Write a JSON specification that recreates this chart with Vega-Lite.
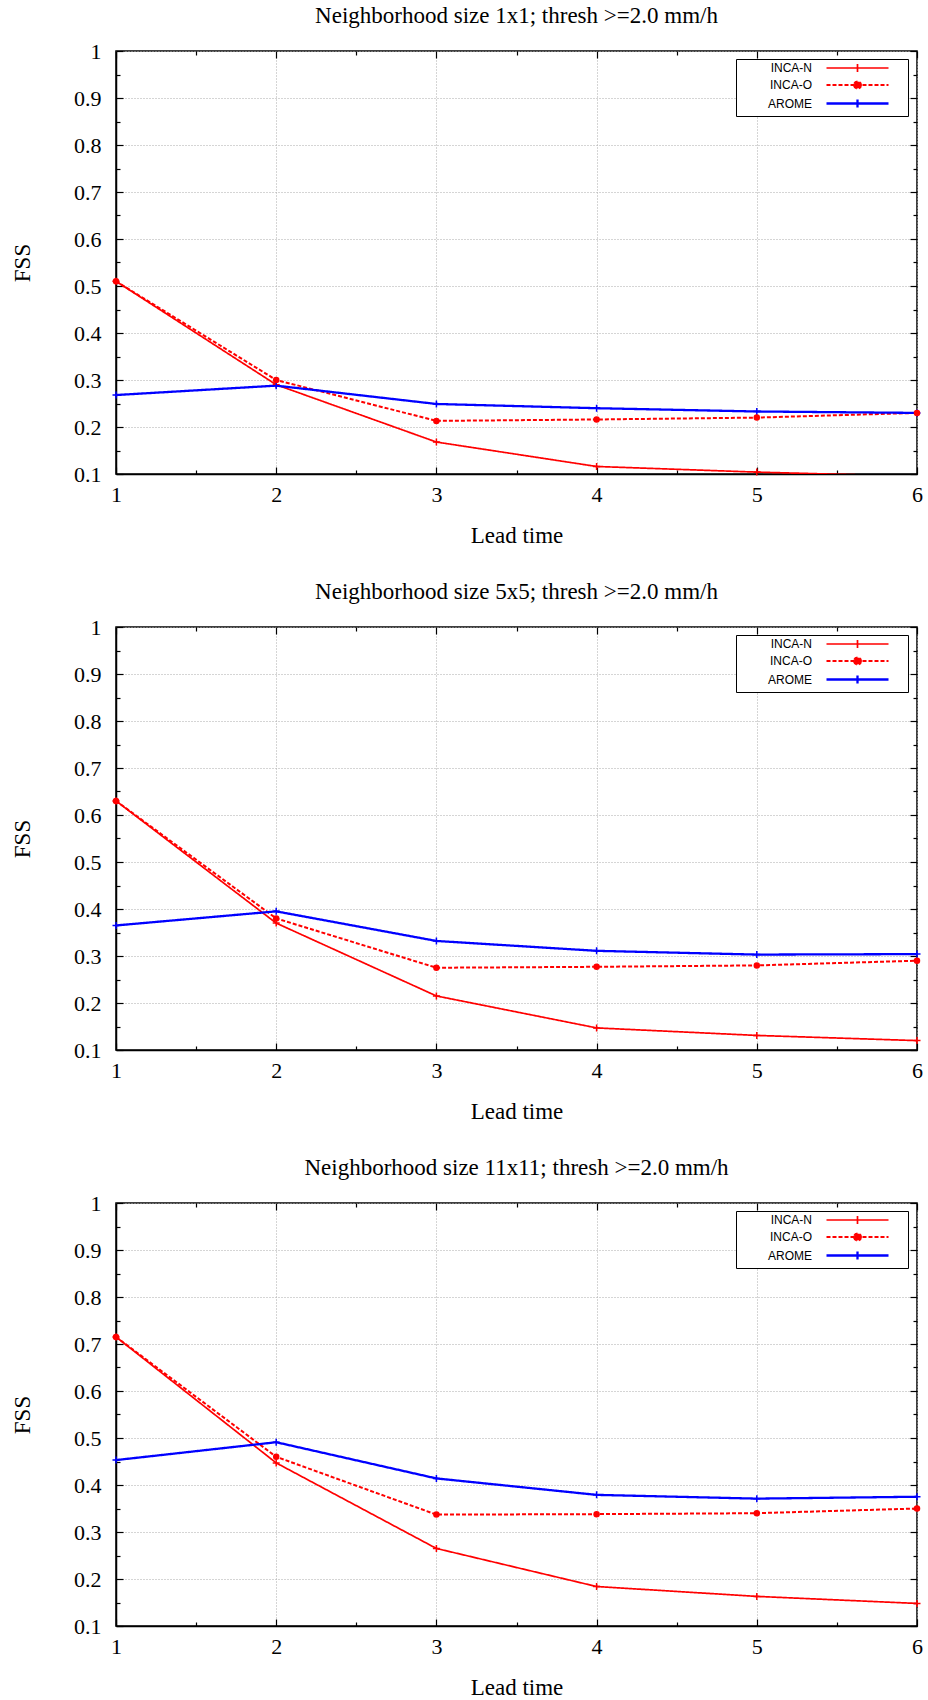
{
  "$schema": "https://vega.github.io/schema/vega-lite/v6.json",
  "padding": {"left": 10, "top": 4, "right": 5, "bottom": 2},
  "background": "white",
  "datasets": {
    "fss": [
      {"panel": "1x1", "model": "INCA-N", "lead": 1, "fss": 0.51},
      {"panel": "1x1", "model": "INCA-N", "lead": 2, "fss": 0.29},
      {"panel": "1x1", "model": "INCA-N", "lead": 3, "fss": 0.168},
      {"panel": "1x1", "model": "INCA-N", "lead": 4, "fss": 0.116},
      {"panel": "1x1", "model": "INCA-N", "lead": 5, "fss": 0.104},
      {"panel": "1x1", "model": "INCA-N", "lead": 6, "fss": 0.095},
      {"panel": "1x1", "model": "INCA-O", "lead": 1, "fss": 0.51},
      {"panel": "1x1", "model": "INCA-O", "lead": 2, "fss": 0.3},
      {"panel": "1x1", "model": "INCA-O", "lead": 3, "fss": 0.213},
      {"panel": "1x1", "model": "INCA-O", "lead": 4, "fss": 0.216},
      {"panel": "1x1", "model": "INCA-O", "lead": 5, "fss": 0.22},
      {"panel": "1x1", "model": "INCA-O", "lead": 6, "fss": 0.23},
      {"panel": "1x1", "model": "AROME", "lead": 1, "fss": 0.268},
      {"panel": "1x1", "model": "AROME", "lead": 2, "fss": 0.288},
      {"panel": "1x1", "model": "AROME", "lead": 3, "fss": 0.249},
      {"panel": "1x1", "model": "AROME", "lead": 4, "fss": 0.24},
      {"panel": "1x1", "model": "AROME", "lead": 5, "fss": 0.233},
      {"panel": "1x1", "model": "AROME", "lead": 6, "fss": 0.23},
      {"panel": "5x5", "model": "INCA-N", "lead": 1, "fss": 0.63},
      {"panel": "5x5", "model": "INCA-N", "lead": 2, "fss": 0.37},
      {"panel": "5x5", "model": "INCA-N", "lead": 3, "fss": 0.215},
      {"panel": "5x5", "model": "INCA-N", "lead": 4, "fss": 0.147},
      {"panel": "5x5", "model": "INCA-N", "lead": 5, "fss": 0.131},
      {"panel": "5x5", "model": "INCA-N", "lead": 6, "fss": 0.12},
      {"panel": "5x5", "model": "INCA-O", "lead": 1, "fss": 0.63},
      {"panel": "5x5", "model": "INCA-O", "lead": 2, "fss": 0.38},
      {"panel": "5x5", "model": "INCA-O", "lead": 3, "fss": 0.275},
      {"panel": "5x5", "model": "INCA-O", "lead": 4, "fss": 0.277},
      {"panel": "5x5", "model": "INCA-O", "lead": 5, "fss": 0.28},
      {"panel": "5x5", "model": "INCA-O", "lead": 6, "fss": 0.29},
      {"panel": "5x5", "model": "AROME", "lead": 1, "fss": 0.365},
      {"panel": "5x5", "model": "AROME", "lead": 2, "fss": 0.395},
      {"panel": "5x5", "model": "AROME", "lead": 3, "fss": 0.332},
      {"panel": "5x5", "model": "AROME", "lead": 4, "fss": 0.311},
      {"panel": "5x5", "model": "AROME", "lead": 5, "fss": 0.303},
      {"panel": "5x5", "model": "AROME", "lead": 6, "fss": 0.304},
      {"panel": "11x11", "model": "INCA-N", "lead": 1, "fss": 0.715},
      {"panel": "11x11", "model": "INCA-N", "lead": 2, "fss": 0.447},
      {"panel": "11x11", "model": "INCA-N", "lead": 3, "fss": 0.265},
      {"panel": "11x11", "model": "INCA-N", "lead": 4, "fss": 0.184},
      {"panel": "11x11", "model": "INCA-N", "lead": 5, "fss": 0.163},
      {"panel": "11x11", "model": "INCA-N", "lead": 6, "fss": 0.148},
      {"panel": "11x11", "model": "INCA-O", "lead": 1, "fss": 0.715},
      {"panel": "11x11", "model": "INCA-O", "lead": 2, "fss": 0.46},
      {"panel": "11x11", "model": "INCA-O", "lead": 3, "fss": 0.337},
      {"panel": "11x11", "model": "INCA-O", "lead": 4, "fss": 0.338},
      {"panel": "11x11", "model": "INCA-O", "lead": 5, "fss": 0.34},
      {"panel": "11x11", "model": "INCA-O", "lead": 6, "fss": 0.35},
      {"panel": "11x11", "model": "AROME", "lead": 1, "fss": 0.453},
      {"panel": "11x11", "model": "AROME", "lead": 2, "fss": 0.491},
      {"panel": "11x11", "model": "AROME", "lead": 3, "fss": 0.414},
      {"panel": "11x11", "model": "AROME", "lead": 4, "fss": 0.379},
      {"panel": "11x11", "model": "AROME", "lead": 5, "fss": 0.371},
      {"panel": "11x11", "model": "AROME", "lead": 6, "fss": 0.375}
    ]
  },
  "data": {"name": "fss"},
  "resolve": {
    "scale": {"x": "independent", "y": "independent", "color": "independent", "strokeDash": "independent", "strokeWidth": "independent"},
    "legend": {"color": "independent", "strokeDash": "independent", "strokeWidth": "independent"}
  },
  "vconcat": [
    {
      "title": "Neighborhood size 1x1; thresh >=2.0 mm/h",
      "width": 801, "height": 423,
      "transform": [{"filter": "datum.panel === '1x1'"}],
      "resolve": {"axis": {"x": "independent", "y": "independent"}},
      "layer": [
        {
          "mark": {"type": "line", "clip": true},
          "encoding": {
            "x": {"field": "lead", "type": "quantitative", "scale": {"domain": [1, 6], "nice": false, "zero": false},
              "axis": {"title": "Lead time", "values": [1, 1.5, 2, 2.5, 3, 3.5, 4, 4.5, 5, 5.5, 6],
                "labelExpr": "datum.value % 1 === 0 ? format(datum.value, 'd') : ''",
                "tickSize": {"condition": {"test": "datum.value % 1 === 0", "value": -7}, "value": -4},
                "gridOpacity": {"condition": {"test": "datum.value % 1 === 0", "value": 1}, "value": 0},
                "labelPadding": 17, "titlePadding": 16, "labelOverlap": false, "labelFlush": false}},
            "y": {"field": "fss", "type": "quantitative", "scale": {"domain": [0.1, 1], "nice": false, "zero": false},
              "axis": {"title": "FSS", "values": [0.1, 0.15, 0.2, 0.25, 0.3, 0.35, 0.4, 0.45, 0.5, 0.55, 0.6, 0.65, 0.7, 0.75, 0.8, 0.85, 0.9, 0.95, 1],
                "labelExpr": "abs(datum.value * 10 - round(datum.value * 10)) < 0.001 ? format(datum.value, '.1~f') : ''",
                "tickSize": {"condition": {"test": "abs(datum.value * 10 - round(datum.value * 10)) < 0.001", "value": -7}, "value": -4},
                "gridOpacity": {"condition": {"test": "abs(datum.value * 10 - round(datum.value * 10)) < 0.001", "value": 1}, "value": 0},
                "labelPadding": 22, "titlePadding": 39, "labelOverlap": false, "labelFlush": false}},
            "color": {"field": "model", "type": "nominal", "sort": ["INCA-N", "INCA-O", "AROME"],
              "scale": {"domain": ["INCA-N", "INCA-O", "AROME"], "range": ["#ff0000", "#ff0000", "#0000ff"]},
              "legend": {"title": null, "orient": "none", "legendX": 620, "legendY": 8,
                "strokeColor": "black", "fillColor": "white", "padding": 3,
                "labelFont": "Liberation Sans", "labelFontSize": 12, "labelColor": "black",
                "labelAlign": "right", "labelOffset": 60, "labelLimit": 0,
                "symbolType": "M16.2,0H28.6M22.4,-0.8V0.8M30.8,0", "symbolSize": 100, "symbolStrokeWidth": 1.8, "rowPadding": 1,
                "encode": {"symbols": {"update": {
                  "shape": {"signal": "datum.value === 'INCA-O' ? 'M16.2,0H28.6M23.1,0A0.7,0.7,0,1,1,21.7,0A0.7,0.7,0,1,1,23.1,0M30.8,0' : 'M16.2,0H28.6M22.4,-0.8V0.8M30.8,0'"},
                  "strokeDash": {"signal": "datum.value === 'INCA-O' ? [4, 2] : [1, 0]"},
                  "strokeWidth": {"signal": "datum.value === 'INCA-O' ? 2.2 : 1.6"},
                  "fill": {"signal": "datum.value === 'INCA-O' ? '#ff0000' : 'transparent'"}
                }}}}},
            "strokeDash": {"field": "model", "type": "nominal",
              "scale": {"domain": ["INCA-N", "INCA-O", "AROME"], "range": [[1, 0], [4, 2], [1, 0]]}, "legend": null},
            "strokeWidth": {"field": "model", "type": "ordinal",
              "scale": {"domain": ["INCA-N", "INCA-O", "AROME"], "range": [1.7, 2.3, 1.6]}, "legend": null}
          }
        },
        {
          "transform": [{"filter": "datum.model !== 'INCA-O' && datum.fss >= 0.1"}],
          "mark": {"type": "point", "shape": "M-1,0H1M0,-1V1", "size": 49, "filled": false, "strokeWidth": 1.5, "opacity": 1},
          "encoding": {
            "x": {"field": "lead", "type": "quantitative", "axis": null},
            "y": {"field": "fss", "type": "quantitative", "axis": null},
            "color": {"field": "model", "type": "nominal", "legend": null}
          }
        },
        {
          "transform": [{"filter": "datum.model === 'INCA-O'"}],
          "mark": {"type": "point", "shape": "circle", "size": 42, "filled": true, "opacity": 1},
          "encoding": {
            "x": {"field": "lead", "type": "quantitative",
              "axis": {"orient": "top", "title": null, "labels": false, "grid": false, "domain": false, "values": [1, 1.5, 2, 2.5, 3, 3.5, 4, 4.5, 5, 5.5, 6],
                "tickSize": {"condition": {"test": "datum.value % 1 === 0", "value": -7}, "value": -4}}},
            "y": {"field": "fss", "type": "quantitative",
              "axis": {"orient": "right", "title": null, "labels": false, "grid": false, "domain": false, "values": [0.1, 0.15, 0.2, 0.25, 0.3, 0.35, 0.4, 0.45, 0.5, 0.55, 0.6, 0.65, 0.7, 0.75, 0.8, 0.85, 0.9, 0.95, 1],
                "tickSize": {"condition": {"test": "abs(datum.value * 10 - round(datum.value * 10)) < 0.001", "value": -7}, "value": -4}}},
            "color": {"field": "model", "type": "nominal", "legend": null}
          }
        }
      ]
    },
    {
      "title": "Neighborhood size 5x5; thresh >=2.0 mm/h",
      "width": 801, "height": 423,
      "transform": [{"filter": "datum.panel === '5x5'"}],
      "resolve": {"axis": {"x": "independent", "y": "independent"}},
      "layer": [
        {
          "mark": {"type": "line", "clip": true},
          "encoding": {
            "x": {"field": "lead", "type": "quantitative", "scale": {"domain": [1, 6], "nice": false, "zero": false},
              "axis": {"title": "Lead time", "values": [1, 1.5, 2, 2.5, 3, 3.5, 4, 4.5, 5, 5.5, 6],
                "labelExpr": "datum.value % 1 === 0 ? format(datum.value, 'd') : ''",
                "tickSize": {"condition": {"test": "datum.value % 1 === 0", "value": -7}, "value": -4},
                "gridOpacity": {"condition": {"test": "datum.value % 1 === 0", "value": 1}, "value": 0},
                "labelPadding": 17, "titlePadding": 16, "labelOverlap": false, "labelFlush": false}},
            "y": {"field": "fss", "type": "quantitative", "scale": {"domain": [0.1, 1], "nice": false, "zero": false},
              "axis": {"title": "FSS", "values": [0.1, 0.15, 0.2, 0.25, 0.3, 0.35, 0.4, 0.45, 0.5, 0.55, 0.6, 0.65, 0.7, 0.75, 0.8, 0.85, 0.9, 0.95, 1],
                "labelExpr": "abs(datum.value * 10 - round(datum.value * 10)) < 0.001 ? format(datum.value, '.1~f') : ''",
                "tickSize": {"condition": {"test": "abs(datum.value * 10 - round(datum.value * 10)) < 0.001", "value": -7}, "value": -4},
                "gridOpacity": {"condition": {"test": "abs(datum.value * 10 - round(datum.value * 10)) < 0.001", "value": 1}, "value": 0},
                "labelPadding": 22, "titlePadding": 39, "labelOverlap": false, "labelFlush": false}},
            "color": {"field": "model", "type": "nominal", "sort": ["INCA-N", "INCA-O", "AROME"],
              "scale": {"domain": ["INCA-N", "INCA-O", "AROME"], "range": ["#ff0000", "#ff0000", "#0000ff"]},
              "legend": {"title": null, "orient": "none", "legendX": 620, "legendY": 8,
                "strokeColor": "black", "fillColor": "white", "padding": 3,
                "labelFont": "Liberation Sans", "labelFontSize": 12, "labelColor": "black",
                "labelAlign": "right", "labelOffset": 60, "labelLimit": 0,
                "symbolType": "M16.2,0H28.6M22.4,-0.8V0.8M30.8,0", "symbolSize": 100, "symbolStrokeWidth": 1.8, "rowPadding": 1,
                "encode": {"symbols": {"update": {
                  "shape": {"signal": "datum.value === 'INCA-O' ? 'M16.2,0H28.6M23.1,0A0.7,0.7,0,1,1,21.7,0A0.7,0.7,0,1,1,23.1,0M30.8,0' : 'M16.2,0H28.6M22.4,-0.8V0.8M30.8,0'"},
                  "strokeDash": {"signal": "datum.value === 'INCA-O' ? [4, 2] : [1, 0]"},
                  "strokeWidth": {"signal": "datum.value === 'INCA-O' ? 2.2 : 1.6"},
                  "fill": {"signal": "datum.value === 'INCA-O' ? '#ff0000' : 'transparent'"}
                }}}}},
            "strokeDash": {"field": "model", "type": "nominal",
              "scale": {"domain": ["INCA-N", "INCA-O", "AROME"], "range": [[1, 0], [4, 2], [1, 0]]}, "legend": null},
            "strokeWidth": {"field": "model", "type": "ordinal",
              "scale": {"domain": ["INCA-N", "INCA-O", "AROME"], "range": [1.7, 2.3, 1.6]}, "legend": null}
          }
        },
        {
          "transform": [{"filter": "datum.model !== 'INCA-O' && datum.fss >= 0.1"}],
          "mark": {"type": "point", "shape": "M-1,0H1M0,-1V1", "size": 49, "filled": false, "strokeWidth": 1.5, "opacity": 1},
          "encoding": {
            "x": {"field": "lead", "type": "quantitative", "axis": null},
            "y": {"field": "fss", "type": "quantitative", "axis": null},
            "color": {"field": "model", "type": "nominal", "legend": null}
          }
        },
        {
          "transform": [{"filter": "datum.model === 'INCA-O'"}],
          "mark": {"type": "point", "shape": "circle", "size": 42, "filled": true, "opacity": 1},
          "encoding": {
            "x": {"field": "lead", "type": "quantitative",
              "axis": {"orient": "top", "title": null, "labels": false, "grid": false, "domain": false, "values": [1, 1.5, 2, 2.5, 3, 3.5, 4, 4.5, 5, 5.5, 6],
                "tickSize": {"condition": {"test": "datum.value % 1 === 0", "value": -7}, "value": -4}}},
            "y": {"field": "fss", "type": "quantitative",
              "axis": {"orient": "right", "title": null, "labels": false, "grid": false, "domain": false, "values": [0.1, 0.15, 0.2, 0.25, 0.3, 0.35, 0.4, 0.45, 0.5, 0.55, 0.6, 0.65, 0.7, 0.75, 0.8, 0.85, 0.9, 0.95, 1],
                "tickSize": {"condition": {"test": "abs(datum.value * 10 - round(datum.value * 10)) < 0.001", "value": -7}, "value": -4}}},
            "color": {"field": "model", "type": "nominal", "legend": null}
          }
        }
      ]
    },
    {
      "title": "Neighborhood size 11x11; thresh >=2.0 mm/h",
      "width": 801, "height": 423,
      "transform": [{"filter": "datum.panel === '11x11'"}],
      "resolve": {"axis": {"x": "independent", "y": "independent"}},
      "layer": [
        {
          "mark": {"type": "line", "clip": true},
          "encoding": {
            "x": {"field": "lead", "type": "quantitative", "scale": {"domain": [1, 6], "nice": false, "zero": false},
              "axis": {"title": "Lead time", "values": [1, 1.5, 2, 2.5, 3, 3.5, 4, 4.5, 5, 5.5, 6],
                "labelExpr": "datum.value % 1 === 0 ? format(datum.value, 'd') : ''",
                "tickSize": {"condition": {"test": "datum.value % 1 === 0", "value": -7}, "value": -4},
                "gridOpacity": {"condition": {"test": "datum.value % 1 === 0", "value": 1}, "value": 0},
                "labelPadding": 17, "titlePadding": 16, "labelOverlap": false, "labelFlush": false}},
            "y": {"field": "fss", "type": "quantitative", "scale": {"domain": [0.1, 1], "nice": false, "zero": false},
              "axis": {"title": "FSS", "values": [0.1, 0.15, 0.2, 0.25, 0.3, 0.35, 0.4, 0.45, 0.5, 0.55, 0.6, 0.65, 0.7, 0.75, 0.8, 0.85, 0.9, 0.95, 1],
                "labelExpr": "abs(datum.value * 10 - round(datum.value * 10)) < 0.001 ? format(datum.value, '.1~f') : ''",
                "tickSize": {"condition": {"test": "abs(datum.value * 10 - round(datum.value * 10)) < 0.001", "value": -7}, "value": -4},
                "gridOpacity": {"condition": {"test": "abs(datum.value * 10 - round(datum.value * 10)) < 0.001", "value": 1}, "value": 0},
                "labelPadding": 22, "titlePadding": 39, "labelOverlap": false, "labelFlush": false}},
            "color": {"field": "model", "type": "nominal", "sort": ["INCA-N", "INCA-O", "AROME"],
              "scale": {"domain": ["INCA-N", "INCA-O", "AROME"], "range": ["#ff0000", "#ff0000", "#0000ff"]},
              "legend": {"title": null, "orient": "none", "legendX": 620, "legendY": 8,
                "strokeColor": "black", "fillColor": "white", "padding": 3,
                "labelFont": "Liberation Sans", "labelFontSize": 12, "labelColor": "black",
                "labelAlign": "right", "labelOffset": 60, "labelLimit": 0,
                "symbolType": "M16.2,0H28.6M22.4,-0.8V0.8M30.8,0", "symbolSize": 100, "symbolStrokeWidth": 1.8, "rowPadding": 1,
                "encode": {"symbols": {"update": {
                  "shape": {"signal": "datum.value === 'INCA-O' ? 'M16.2,0H28.6M23.1,0A0.7,0.7,0,1,1,21.7,0A0.7,0.7,0,1,1,23.1,0M30.8,0' : 'M16.2,0H28.6M22.4,-0.8V0.8M30.8,0'"},
                  "strokeDash": {"signal": "datum.value === 'INCA-O' ? [4, 2] : [1, 0]"},
                  "strokeWidth": {"signal": "datum.value === 'INCA-O' ? 2.2 : 1.6"},
                  "fill": {"signal": "datum.value === 'INCA-O' ? '#ff0000' : 'transparent'"}
                }}}}},
            "strokeDash": {"field": "model", "type": "nominal",
              "scale": {"domain": ["INCA-N", "INCA-O", "AROME"], "range": [[1, 0], [4, 2], [1, 0]]}, "legend": null},
            "strokeWidth": {"field": "model", "type": "ordinal",
              "scale": {"domain": ["INCA-N", "INCA-O", "AROME"], "range": [1.7, 2.3, 1.6]}, "legend": null}
          }
        },
        {
          "transform": [{"filter": "datum.model !== 'INCA-O' && datum.fss >= 0.1"}],
          "mark": {"type": "point", "shape": "M-1,0H1M0,-1V1", "size": 49, "filled": false, "strokeWidth": 1.5, "opacity": 1},
          "encoding": {
            "x": {"field": "lead", "type": "quantitative", "axis": null},
            "y": {"field": "fss", "type": "quantitative", "axis": null},
            "color": {"field": "model", "type": "nominal", "legend": null}
          }
        },
        {
          "transform": [{"filter": "datum.model === 'INCA-O'"}],
          "mark": {"type": "point", "shape": "circle", "size": 42, "filled": true, "opacity": 1},
          "encoding": {
            "x": {"field": "lead", "type": "quantitative",
              "axis": {"orient": "top", "title": null, "labels": false, "grid": false, "domain": false, "values": [1, 1.5, 2, 2.5, 3, 3.5, 4, 4.5, 5, 5.5, 6],
                "tickSize": {"condition": {"test": "datum.value % 1 === 0", "value": -7}, "value": -4}}},
            "y": {"field": "fss", "type": "quantitative",
              "axis": {"orient": "right", "title": null, "labels": false, "grid": false, "domain": false, "values": [0.1, 0.15, 0.2, 0.25, 0.3, 0.35, 0.4, 0.45, 0.5, 0.55, 0.6, 0.65, 0.7, 0.75, 0.8, 0.85, 0.9, 0.95, 1],
                "tickSize": {"condition": {"test": "abs(datum.value * 10 - round(datum.value * 10)) < 0.001", "value": -7}, "value": -4}}},
            "color": {"field": "model", "type": "nominal", "legend": null}
          }
        }
      ]
    }
  ],
  "config": {
    "view": {"stroke": "black", "strokeWidth": 1.5},
    "font": "Liberation Serif",
    "axis": {"labelFont": "Liberation Serif", "labelFontSize": 22, "labelColor": "black",
      "titleFont": "Liberation Serif", "titleFontSize": 23, "titleFontWeight": "normal", "titleColor": "black",
      "domainColor": "black", "domainWidth": 1.5, "tickColor": "black", "tickWidth": 1.2,
      "gridColor": "#aaaaaa", "gridDash": [1, 2], "gridWidth": 1},
    "title": {"font": "Liberation Serif", "fontSize": 23, "fontWeight": "normal", "color": "black", "offset": 12},
    "concat": {"spacing": 32}
  }
}
